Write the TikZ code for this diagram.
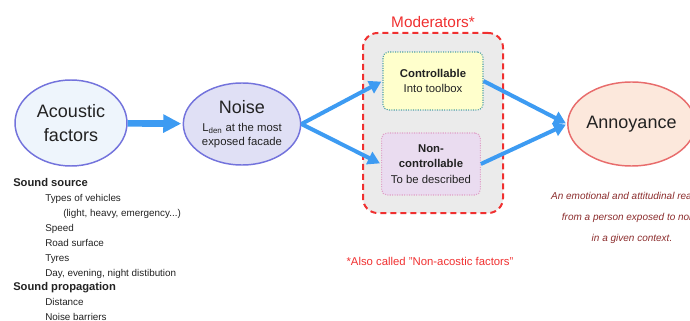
\documentclass[tikz,border=0pt]{standalone}
\usepackage{fontspec}
\setmainfont{Liberation Sans}
\usetikzlibrary{positioning, shapes.geometric, arrows.meta}

\definecolor{flowblue}{HTML}{3D9BF2}
\definecolor{ellblue}{HTML}{7373DC}
\definecolor{acfill}{HTML}{EEF5FC}
\definecolor{noisefill}{HTML}{E0E0F5}
\definecolor{annfill}{HTML}{FCE8DC}
\definecolor{annred}{HTML}{E86C6C}
\definecolor{modred}{HTML}{F03030}
\definecolor{modgray}{HTML}{EBEBEB}
\definecolor{ctrlyellow}{HTML}{FFFFCC}
\definecolor{ctrlteal}{HTML}{4FA0A8}
\definecolor{ncfill}{HTML}{EADCF0}
\definecolor{ncpink}{HTML}{E0A0C8}
\definecolor{descred}{HTML}{8B2C2C}
\definecolor{ink}{HTML}{222222}

\newcommand{\smalltxt}{\fontsize{8.5}{10.5}\selectfont}

\begin{document}
\begin{tikzpicture}[x=0.75pt, y=-0.75pt, shorten >=1pt,
    factor/.style={ellipse, draw=ellblue, line width=1.1pt, align=center,
        inner sep=0pt, text=ink, font=\fontsize{13.5}{18}\selectfont},
    modbox/.style={rectangle, rounded corners=4pt, densely dotted, line width=0.8pt,
        align=center, text=ink, font=\fontsize{8.5}{11.5}\selectfont},
    flow/.style={-{Triangle[length=9pt, width=10pt]}, draw=flowblue, line width=3pt},
    bigflow/.style={-{Triangle[length=13.5pt, width=13pt]}, draw=flowblue, line width=5pt}]

    \useasboundingbox (0,0) rectangle (690,321);

    \node[rectangle, draw=modred, fill=modgray, dash pattern=on 4.5pt off 3pt, line width=1.5pt, rounded corners=11pt,
        minimum width=105pt, minimum height=135pt] (moderators) at (433,123) {};
    \node[text=modred, font=\fontsize{11.5}{14}\selectfont, above=0pt of moderators] (modlabel) {Moderators*};

    \node[factor, fill=acfill, minimum width=84pt, minimum height=64.5pt] (acoustic) at (71,123) {Acoustic\\factors};
    \node[factor, fill=noisefill, minimum width=88pt, minimum height=61.5pt] (noise) at (242,124)
        {Noise\\[-5pt]\smalltxt L\textsubscript{den} at the most\\[-7.5pt]\smalltxt exposed facade};
    \node[factor, fill=annfill, draw=annred, minimum width=88pt, minimum height=63pt] (annoy) at (631.5,124) {Annoyance};

    \node[modbox, fill=ctrlyellow, draw=ctrlteal, minimum width=75pt, minimum height=43.5pt] (ctrl) at (433,81)
        {\textbf{Controllable}\\Into toolbox};
    \node[modbox, fill=ncfill, draw=ncpink, minimum width=74pt, minimum height=46.5pt] (nonctrl) at (431,164)
        {\textbf{Non-}\\\textbf{controllable}\\To be described};

    \draw[bigflow] (acoustic) -- (noise);
    \draw[flow] (noise.east) -- (ctrl.west);
    \draw[flow] (noise.east) -- (nonctrl.west);
    \draw[flow] (ctrl.east) -- (annoy.west);
    \draw[flow] (nonctrl.east) -- (annoy.west);

    \node[text=modred, font=\fontsize{8.5}{10}\selectfont] (note) at (430,261) {*Also called "Non-acostic factors"};
    \node[text=descred, align=center, font=\fontsize{7.5}{15.75}\selectfont\itshape] (annoydesc) at (632,218)
        {An emotional and attitudinal reaction\\from a person exposed to noise\\in a given context.};

    \node[anchor=north west, inner sep=0pt, align=left, text=ink, font=\fontsize{7.4}{11.14}\selectfont] (factorlist) at (13,178.5)
        {\textbf{\fontsize{8.4}{11.14}\selectfont Sound source}\\
        \hspace*{24pt}Types of vehicles\\
        \hspace*{37.5pt}(light, heavy, emergency...)\\
        \hspace*{24pt}Speed\\
        \hspace*{24pt}Road surface\\
        \hspace*{24pt}Tyres\\
        \hspace*{24pt}Day, evening, night distibution\\
        \textbf{\fontsize{8.4}{11.14}\selectfont Sound propagation}\\
        \hspace*{24pt}Distance\\
        \hspace*{24pt}Noise barriers};

\end{tikzpicture}
\end{document}
